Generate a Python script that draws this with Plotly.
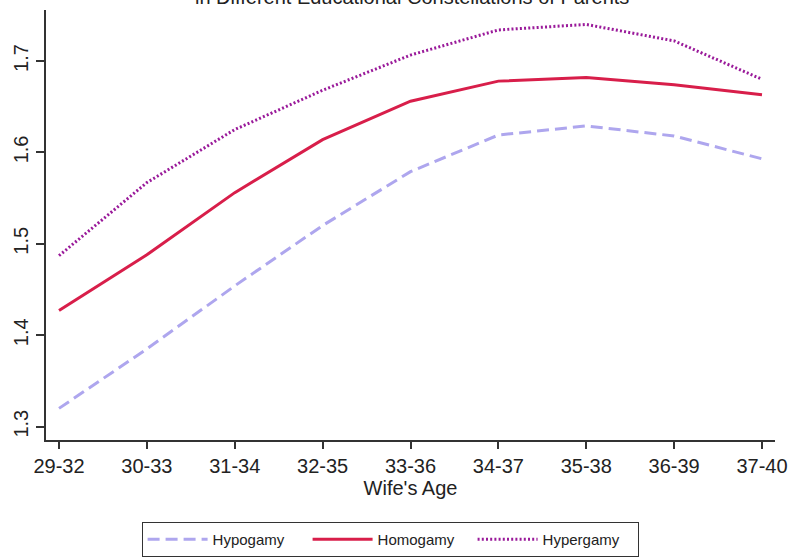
import plotly.graph_objects as go

# Wife's age groups (x categories)
age_groups = ["29-32", "30-33", "31-34", "32-35", "33-36",
              "34-37", "35-38", "36-39", "37-40"]

# Predicted number of children by parental educational constellation
hypogamy = [1.320, 1.385, 1.454, 1.520, 1.579, 1.619, 1.629, 1.618, 1.593]
homogamy = [1.427, 1.488, 1.556, 1.614, 1.656, 1.678, 1.682, 1.674, 1.663]
hypergamy = [1.487, 1.567, 1.625, 1.668, 1.7065, 1.734, 1.740, 1.722, 1.680]

y_ticks = [1.3, 1.4, 1.5, 1.6, 1.7]

FONT = "Liberation Sans, Arial, Helvetica, sans-serif"
AXIS = "#333333"

fig = go.Figure()
fig.add_trace(go.Scatter(
    x=age_groups, y=hypogamy, name="Hypogamy", mode="lines",
    line=dict(color="#aea6ee", width=3, dash="12px,6px"),
))
fig.add_trace(go.Scatter(
    x=age_groups, y=homogamy, name="Homogamy", mode="lines",
    line=dict(color="#d81e4a", width=3),
))
fig.add_trace(go.Scatter(
    x=age_groups, y=hypergamy, name="Hypergamy", mode="lines",
    line=dict(color="#9a1a9a", width=3, dash="2px,2.2px"),
))

fig.update_layout(
    width=792, height=558,
    margin=dict(l=46, r=17, t=10, b=118, autoexpand=False),
    paper_bgcolor="white", plot_bgcolor="white",
    font=dict(family=FONT, size=20, color="#222222"),
    showlegend=True,
    legend=dict(
        orientation="h",
        x=0.472, xanchor="center",
        y=-0.272, yanchor="bottom",
        bordercolor=AXIS, borderwidth=1,
        font=dict(size=15, color="#222222"),
        itemwidth=60,
        entrywidth=90,
    ),
    xaxis=dict(
        type="category",
        range=[-0.148, 8.148],
        showline=True, linecolor=AXIS, linewidth=1.5,
        ticks="outside", ticklen=7, tickcolor=AXIS, tickwidth=1.5,
        showgrid=False, zeroline=False,
        tickfont=dict(size=20),
        title=dict(text="Wife's Age", font=dict(size=20), standoff=0),
    ),
    yaxis=dict(
        range=[1.2854, 1.7558],
        tickvals=y_ticks,
        ticktext=[f"{v:.1f}" for v in y_ticks],
        tickangle=-90,
        showline=True, linecolor=AXIS, linewidth=1.5,
        ticks="outside", ticklen=8, tickcolor=AXIS, tickwidth=1.5,
        showgrid=False, zeroline=False,
        tickfont=dict(size=20),
    ),
    annotations=[dict(
        text="in Different Educational Constellations of Parents",
        xref="paper", yref="paper", x=0.502, y=1.030,
        xanchor="center", yanchor="middle", showarrow=False,
        font=dict(size=20, color="#222222"),
    )],
)

fig.write_html("out.html")
